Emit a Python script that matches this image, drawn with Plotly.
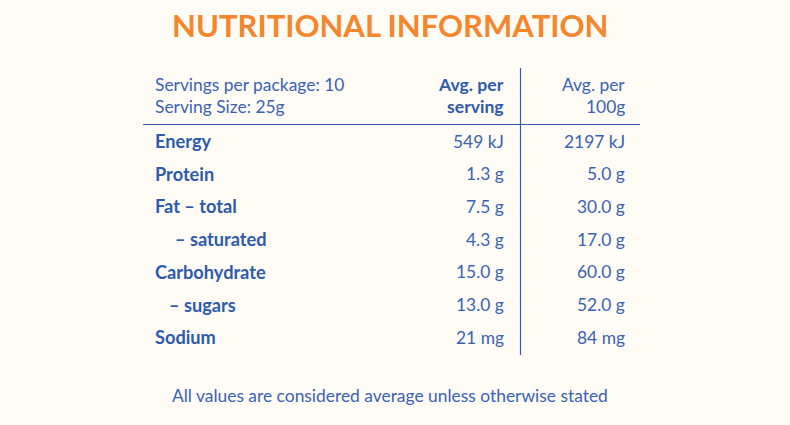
import plotly.graph_objects as go

title = "NUTRITIONAL INFORMATION"
servings_info = ["Servings per package: 10", "Serving Size: 25g"]
col_headers = [["Avg. per", "serving"], ["Avg. per", "100g"]]
nutrients = ["Energy", "Protein", "Fat – total", "– saturated", "Carbohydrate", "– sugars", "Sodium"]
indent = [0, 0, 0, 2, 0, 1, 0]
per_serving = ["549 kJ", "1.3 g", "7.5 g", "4.3 g", "15.0 g", "13.0 g", "21 mg"]
per_100g = ["2197 kJ", "5.0 g", "30.0 g", "17.0 g", "60.0 g", "52.0 g", "84 mg"]
footer = "All values are considered average unless otherwise stated"

ORANGE = "#F5862B"
BLUE = "#2D5AAB"
BLUE_L = "#3A62B3"
BG = "#FFFCF5"
FONT = "Lato"
NS, BS = 17.4, 18.2

W, H = 790, 425
fig = go.Figure()
fig.add_trace(go.Scatter(x=[0, W], y=[0, H], mode="markers", marker=dict(opacity=0), hoverinfo="skip", showlegend=False))

ann = []
def add(text, x, y, size=NS, bold=False, anchor="left", color=BLUE, family=FONT):
    t = f"<b>{text}</b>" if bold else text
    ann.append(dict(text=t, x=x, y=y, xref="x", yref="y", showarrow=False,
                    xanchor=anchor, yanchor="middle",
                    font=dict(size=size, color=color, family=family)))

add(title, 390, 25, size=31, bold=True, anchor="center", color=ORANGE, family="Lato")

LX, C1, C2 = 153, 506, 627
hdr_y = [84, 106]
for i, s in enumerate(servings_info):
    add(s, LX, hdr_y[i], color=BLUE_L)
for i, s in enumerate(col_headers[0]):
    add(s, C1, hdr_y[i], size=BS - 0.6, bold=True, anchor="right")
for i, s in enumerate(col_headers[1]):
    add(s, C2, hdr_y[i], anchor="right", color=BLUE_L)

row_y0, row_dy = 141, 32.7
for i, n in enumerate(nutrients):
    y = row_y0 + i * row_dy
    x = LX + (20 if indent[i] == 2 else (14 if indent[i] == 1 else 0))
    add(n, x, y, size=BS, bold=True)
    add(per_serving[i], C1, y, anchor="right", color=BLUE_L)
    add(per_100g[i], C2, y, anchor="right", color=BLUE_L)

add(footer, 390, 395, anchor="center", color=BLUE_L)

shapes = [
    dict(type="line", xref="x", yref="y", x0=143, x1=640, y0=124.5, y1=124.5, line=dict(color=BLUE, width=1.2)),
    dict(type="line", xref="x", yref="y", x0=520.5, x1=520.5, y0=68, y1=355, line=dict(color=BLUE, width=1.2)),
]

fig.update_layout(
    width=W, height=H, margin=dict(l=0, r=0, t=0, b=0),
    paper_bgcolor=BG, plot_bgcolor=BG,
    xaxis=dict(range=[0, W], visible=False, fixedrange=True),
    yaxis=dict(range=[H, 0], visible=False, fixedrange=True),
    annotations=ann, shapes=shapes, showlegend=False,
)
fig.write_html("out.html", config={"displayModeBar": False},
               post_script="document.body.style.margin='0';document.body.style.background='#FFFCF5';")
